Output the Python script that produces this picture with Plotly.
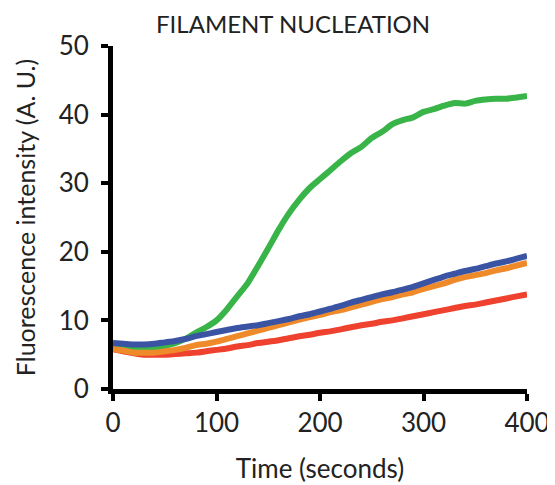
import plotly.graph_objects as go

time_s = list(range(0, 401, 10))

green = [6.0, 5.9, 5.7, 5.8, 6.0, 6.3, 6.7, 7.3, 8.2, 9.0, 10.0, 11.6, 13.5, 15.4, 17.9, 20.5,
         23.2, 25.6, 27.6, 29.3, 30.6, 31.9, 33.2, 34.4, 35.3, 36.6, 37.5, 38.6, 39.2, 39.6,
         40.4, 40.8, 41.3, 41.7, 41.6, 42.0, 42.2, 42.3, 42.3, 42.5, 42.7]
blue = [6.7, 6.6, 6.5, 6.5, 6.6, 6.8, 7.0, 7.3, 7.7, 8.0, 8.3, 8.6, 8.9, 9.1, 9.3, 9.6, 9.9,
        10.2, 10.6, 10.9, 11.3, 11.7, 12.1, 12.6, 13.0, 13.4, 13.8, 14.1, 14.5, 14.9, 15.4,
        15.9, 16.4, 16.8, 17.2, 17.5, 17.9, 18.3, 18.6, 19.0, 19.4]
orange = [5.8, 5.6, 5.3, 5.3, 5.3, 5.5, 5.7, 6.0, 6.4, 6.6, 6.9, 7.3, 7.7, 8.1, 8.5, 8.9, 9.3,
          9.7, 10.1, 10.5, 10.8, 11.2, 11.5, 11.9, 12.3, 12.7, 13.1, 13.4, 13.8, 14.1, 14.6,
          15.0, 15.4, 15.9, 16.3, 16.6, 16.9, 17.3, 17.6, 18.0, 18.4]
red = [5.8, 5.5, 5.2, 5.0, 5.0, 5.0, 5.1, 5.2, 5.3, 5.5, 5.7, 5.9, 6.2, 6.4, 6.7, 6.9, 7.1,
       7.4, 7.7, 7.9, 8.2, 8.4, 8.7, 9.0, 9.3, 9.5, 9.8, 10.0, 10.3, 10.6, 10.9, 11.2, 11.5,
       11.8, 12.1, 12.3, 12.6, 12.9, 13.2, 13.5, 13.8]

x_ticks = [0, 100, 200, 300, 400]
y_ticks = [0, 10, 20, 30, 40, 50]

series = [
    ("green", green, "#38b449"),
    ("red", red, "#ee412e"),
    ("orange", orange, "#ef8a2a"),
    ("blue", blue, "#3a53a3"),
]

FONT = "Lato, 'Open Sans', sans-serif"
TXT = "#222222"

fig = go.Figure()
for name, ys, col in series:
    fig.add_trace(go.Scatter(x=time_s, y=ys, mode="lines", name=name,
                             line=dict(color=col, width=6, shape="spline", smoothing=0.6),
                             showlegend=False))

fig.update_layout(
    width=555, height=485,
    margin=dict(l=105, r=36, t=38, b=104),
    paper_bgcolor="white", plot_bgcolor="white",
    font=dict(family=FONT, color=TXT, size=24),
    title=dict(text="FILAMENT NUCLEATION", x=0.435, xref="paper", xanchor="center",
               y=0.965, yref="container", yanchor="middle",
               font=dict(family=FONT, size=24, color=TXT)),
)
fig.update_xaxes(range=[0, 400], tickvals=x_ticks, showgrid=False, zeroline=False,
                 showline=True, linecolor="black", linewidth=5,
                 ticks="outside", ticklen=7, tickwidth=4, tickcolor="black",
                 tickfont=dict(size=26, color=TXT, family=FONT), automargin=False,
                 title=dict(text="Time (seconds)", font=dict(size=26, color=TXT, family=FONT),
                            standoff=24))
fig.update_yaxes(range=[0, 50], tickvals=y_ticks, showgrid=False, zeroline=False,
                 showline=True, linecolor="black", linewidth=5,
                 ticks="outside", ticklen=7, tickwidth=4, tickcolor="black",
                 ticklabelstandoff=7,
                 tickfont=dict(size=26, color=TXT, family=FONT), automargin=False,
                 title=dict(text="Fluorescence intensity (A. U.)",
                            font=dict(size=25, color=TXT, family=FONT), standoff=17))

fig.write_html("out.html")
